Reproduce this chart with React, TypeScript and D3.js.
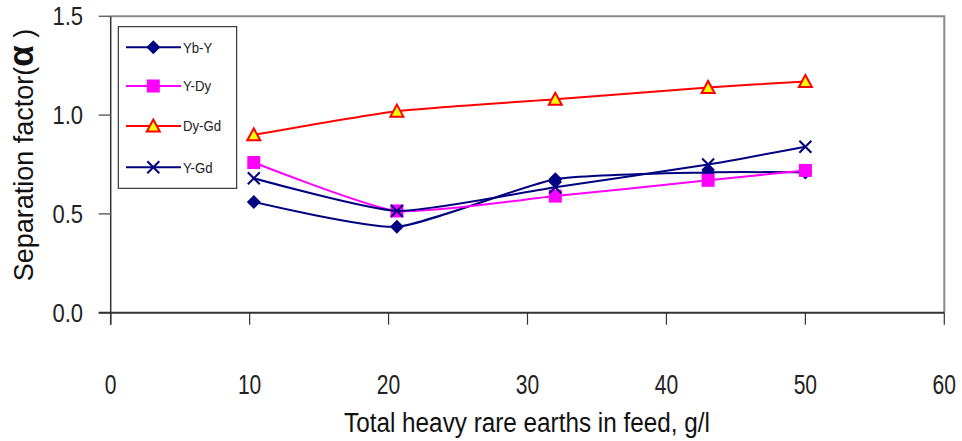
import * as d3 from "d3";

// feed concentration, g/l
const feed = [10.3, 20.6, 32, 43, 50];

const ybY = [0.56, 0.435, 0.675, 0.71, 0.71];
const yDy = [0.76, 0.515, 0.59, 0.67, 0.72];
const dyGd = [0.9, 1.02, 1.08, 1.14, 1.17];
const yGd = [0.68, 0.515, 0.635, 0.75, 0.84];

const xTicks = [0, 10, 20, 30, 40, 50, 60];
const yTicks = [0, 0.5, 1.0, 1.5];

const series = [
  { name: "Yb-Y", values: ybY, color: "#000080", marker: "diamond" },
  { name: "Y-Dy", values: yDy, color: "#ff00ff", marker: "square" },
  { name: "Dy-Gd", values: dyGd, color: "#ff0000", marker: "triangle" },
  { name: "Y-Gd", values: yGd, color: "#000080", marker: "cross" },
];

const W = 962;
const H = 441;
const left = 110.7;
const right = 944.3;
const top = 16.3;
const bottom = 312.7;
const font = "'Liberation Sans', Arial, sans-serif";

// squeeze text horizontally around its anchor, like the stretched original
const squeeze = (cx: number, cy: number, k: number) =>
  `translate(${cx},${cy}) scale(${k},1) translate(${-cx},${-cy})`;

function Marker({ type, x, y, color }: any) {
  if (type === "diamond") {
    return <path d={`M${x},${y - 7}L${x + 7},${y}L${x},${y + 7}L${x - 7},${y}Z`} fill={color} />;
  }
  if (type === "square") {
    return <rect x={x - 6.5} y={y - 6.5} width={13} height={13} fill={color} />;
  }
  if (type === "triangle") {
    return (
      <path
        d={`M${x},${y - 6.5}L${x + 6.5},${y + 5.5}L${x - 6.5},${y + 5.5}Z`}
        fill="#ffff00"
        stroke="#ff0000"
        strokeWidth={2}
      />
    );
  }
  return (
    <path
      d={`M${x - 6},${y - 6}L${x + 6},${y + 6}M${x - 6},${y + 6}L${x + 6},${y - 6}`}
      stroke={color}
      strokeWidth={2}
    />
  );
}

export default function App() {
  const x = d3.scaleLinear().domain([0, 60]).range([left, right]);
  const y = d3.scaleLinear().domain([0, 1.5]).range([bottom, top]);

  const line = d3
    .line<number>()
    .x((_, i) => x(feed[i]))
    .y((d) => y(d))
    .curve(d3.curveCardinal.tension(0.45));

  const legendRows = [47.3, 86, 126, 167.3];

  return (
    <svg
      width={W}
      height={H}
      style={{ position: "absolute", left: 0, top: 0, background: "#fff" }}
      fontFamily={font}
    >
      {/* plot frame */}
      <path
        d={`M${left},${top}H${right}V${bottom}`}
        fill="none"
        stroke="#8a8a8a"
        strokeWidth={2}
      />

      {/* y axis */}
      <line x1={left} x2={left} y1={top} y2={bottom + 12} stroke="#333" strokeWidth={1.5} />
      {yTicks.map((t) => (
        <g key={t}>
          <line x1={left - 12} x2={left} y1={y(t)} y2={y(t)} stroke="#666" strokeWidth={1.5} />
          <text
            x={83}
            y={y(t)}
            dy="0.36em"
            textAnchor="end"
            fontSize={25}
            fill="#222"
            transform={squeeze(83, y(t), 0.88)}
          >
            {d3.format(".1f")(t)}
          </text>
        </g>
      ))}

      {/* x axis */}
      <line x1={left - 12} x2={right} y1={bottom} y2={bottom} stroke="#333" strokeWidth={2} />
      {xTicks.map((t) => (
        <g key={t}>
          <line x1={x(t)} x2={x(t)} y1={bottom} y2={bottom + 12} stroke="#333" strokeWidth={1.2} />
          <text
            x={x(t)}
            y={394}
            textAnchor="middle"
            fontSize={27}
            fill="#222"
            transform={squeeze(x(t), 394, 0.78)}
          >
            {t}
          </text>
        </g>
      ))}

      <text
        x={527}
        y={432}
        textAnchor="middle"
        fontSize={27}
        fill="#111"
        transform={squeeze(527, 432, 0.9)}
      >
        Total heavy rare earths in feed, g/l
      </text>

      <text
        transform="translate(33,155) rotate(-90)"
        textAnchor="middle"
        fontSize={27}
        fill="#111"
      >
        Separation factor(
        <tspan fontWeight="bold" fontSize={35}>
          α
        </tspan>
        {"   )"}
      </text>

      {/* series */}
      {series.map((s) => (
        <g key={s.name}>
          <path d={line(s.values) || ""} fill="none" stroke={s.color} strokeWidth={2} />
          {s.values.map((v, i) => (
            <Marker key={i} type={s.marker} x={x(feed[i])} y={y(v)} color={s.color} />
          ))}
        </g>
      ))}

      {/* legend */}
      <rect x={118.3} y={26.7} width={118.4} height={161.6} fill="#fff" stroke="#111" strokeWidth={1} />
      {series.map((s, i) => (
        <g key={s.name}>
          <line x1={126} x2={181} y1={legendRows[i]} y2={legendRows[i]} stroke={s.color} strokeWidth={2} />
          <Marker type={s.marker} x={153.3} y={legendRows[i]} color={s.color} />
          <text
            x={183}
            y={legendRows[i]}
            dy="0.36em"
            fontSize={15}
            fill="#222"
            transform={squeeze(183, legendRows[i], 0.88)}
          >
            {s.name}
          </text>
        </g>
      ))}
    </svg>
  );
}
